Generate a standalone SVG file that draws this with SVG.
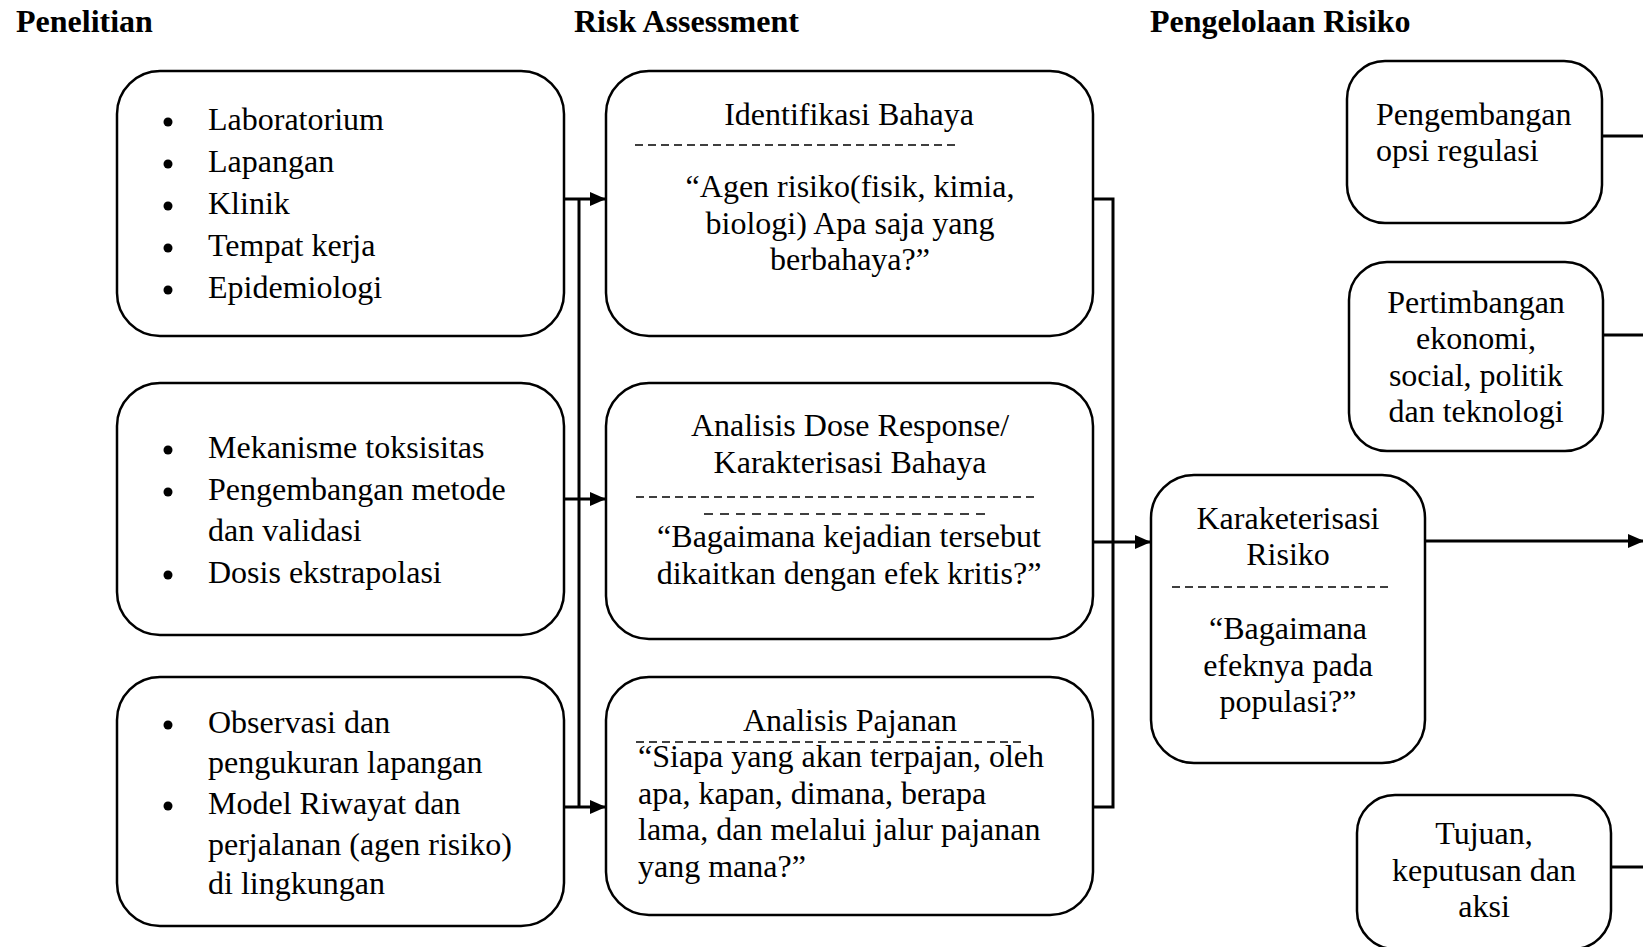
<svg xmlns="http://www.w3.org/2000/svg" width="1643" height="947" viewBox="0 0 1643 947">
<style>
text{font-family:"Liberation Serif","Times New Roman",serif;font-size:32px;fill:#000}
.title{font-weight:bold}
.mid{text-anchor:middle}
.box{fill:#fff;stroke:#000;stroke-width:2.5}
.dash{stroke:#000;stroke-width:1.5;stroke-dasharray:8 5;fill:none}
.conn{stroke:#000;stroke-width:3;fill:none}
</style>
<defs>
<marker id="ah" markerWidth="16" markerHeight="14" refX="15" refY="7" orient="auto" markerUnits="userSpaceOnUse">
<path d="M0,0 L16,7 L0,14 Z" fill="#000"/>
</marker>
</defs>
<rect width="1643" height="947" fill="#fff"/>
<g id="titles">
<text class="title" x="16" y="32">Penelitian</text>
<text class="title" x="574" y="32">Risk Assessment</text>
<text class="title" x="1150" y="32">Pengelolaan Risiko</text>
</g>
<g id="connectors">
<line class="conn" x1="579" y1="199" x2="579" y2="807"/>
<line class="conn" x1="564" y1="199" x2="605" y2="199" marker-end="url(#ah)"/>
<line class="conn" x1="564" y1="499" x2="605" y2="499" marker-end="url(#ah)"/>
<line class="conn" x1="564" y1="807" x2="605" y2="807" marker-end="url(#ah)"/>
<polyline class="conn" points="1093,199 1113,199 1113,807 1093,807"/>
<line class="conn" x1="1093" y1="542" x2="1150" y2="542" marker-end="url(#ah)"/>
<line class="conn" x1="1425" y1="541" x2="1643" y2="541" marker-end="url(#ah)"/>
<line class="conn" x1="1602" y1="136" x2="1643" y2="136"/>
<line class="conn" x1="1603" y1="335" x2="1643" y2="335"/>
<line class="conn" x1="1611" y1="867" x2="1643" y2="867"/>
</g>
<g id="research1">
<rect class="box" x="117" y="71" width="447" height="265" rx="43"/>
<circle cx="168" cy="122" r="4.5"/><text x="208" y="130">Laboratorium</text>
<circle cx="168" cy="164" r="4.5"/><text x="208" y="172">Lapangan</text>
<circle cx="168" cy="206" r="4.5"/><text x="208" y="214">Klinik</text>
<circle cx="168" cy="248" r="4.5"/><text x="208" y="256">Tempat kerja</text>
<circle cx="168" cy="290" r="4.5"/><text x="208" y="298">Epidemiologi</text>
</g>
<g id="research2">
<rect class="box" x="117" y="383" width="447" height="252" rx="43"/>
<circle cx="168" cy="450" r="4.5"/><text x="208" y="458">Mekanisme toksisitas</text>
<circle cx="168" cy="492" r="4.5"/><text x="208" y="500">Pengembangan metode</text>
<text x="208" y="541">dan validasi</text>
<circle cx="168" cy="575" r="4.5"/><text x="208" y="583">Dosis ekstrapolasi</text>
</g>
<g id="research3">
<rect class="box" x="117" y="677" width="447" height="249" rx="43"/>
<circle cx="168" cy="725" r="4.5"/><text x="208" y="733">Observasi dan</text>
<text x="208" y="773">pengukuran lapangan</text>
<circle cx="168" cy="806" r="4.5"/><text x="208" y="814">Model Riwayat dan</text>
<text x="208" y="855">perjalanan (agen risiko)</text>
<text x="208" y="894">di lingkungan</text>
</g>
<g id="hazard-id">
<rect class="box" x="606" y="71" width="487" height="265" rx="43"/>
<text class="mid" x="849" y="125">Identifikasi Bahaya</text>
<line class="dash" x1="635" y1="145" x2="958" y2="145"/>
<text class="mid" x="850" y="197">“Agen risiko(fisik, kimia,</text>
<text class="mid" x="850" y="234">biologi) Apa saja yang</text>
<text class="mid" x="850" y="270">berbahaya?”</text>
</g>
<g id="dose-response">
<rect class="box" x="606" y="383" width="487" height="256" rx="43"/>
<text class="mid" x="850" y="436">Analisis Dose Response/</text>
<text class="mid" x="850" y="473">Karakterisasi Bahaya</text>
<line class="dash" x1="636" y1="497" x2="1037" y2="497"/>
<line class="dash" x1="704" y1="514" x2="992" y2="514" style="stroke-dasharray:9 7"/>
<text class="mid" x="849" y="547">“Bagaimana kejadian tersebut</text>
<text class="mid" x="849" y="584">dikaitkan dengan efek kritis?”</text>
</g>
<g id="exposure">
<rect class="box" x="606" y="677" width="487" height="238" rx="43"/>
<text class="mid" x="850" y="731">Analisis Pajanan</text>
<line class="dash" x1="636" y1="742" x2="1022" y2="742"/>
<text x="638" y="767">“Siapa yang akan terpajan, oleh</text>
<text x="638" y="804">apa, kapan, dimana, berapa</text>
<text x="638" y="840">lama, dan melalui jalur pajanan</text>
<text x="638" y="877">yang mana?”</text>
</g>
<g id="risk-char">
<rect class="box" x="1151" y="475" width="274" height="288" rx="43"/>
<text class="mid" x="1288" y="529">Karaketerisasi</text>
<text class="mid" x="1288" y="565">Risiko</text>
<line class="dash" x1="1172" y1="587" x2="1391" y2="587"/>
<text class="mid" x="1288" y="639">“Bagaimana</text>
<text class="mid" x="1288" y="676">efeknya pada</text>
<text class="mid" x="1288" y="712">populasi?”</text>
</g>
<g id="regulation">
<rect class="box" x="1347" y="61" width="255" height="162" rx="38"/>
<text x="1376" y="125">Pengembangan</text>
<text x="1376" y="161">opsi regulasi</text>
</g>
<g id="considerations">
<rect class="box" x="1349" y="262" width="254" height="189" rx="38"/>
<text class="mid" x="1476" y="313">Pertimbangan</text>
<text class="mid" x="1476" y="349">ekonomi,</text>
<text class="mid" x="1476" y="386">social, politik</text>
<text class="mid" x="1476" y="422">dan teknologi</text>
</g>
<g id="decision">
<rect class="box" x="1357" y="795" width="254" height="154" rx="38"/>
<text class="mid" x="1484" y="844">Tujuan,</text>
<text class="mid" x="1484" y="881">keputusan dan</text>
<text class="mid" x="1484" y="917">aksi</text>
</g>
</svg>
